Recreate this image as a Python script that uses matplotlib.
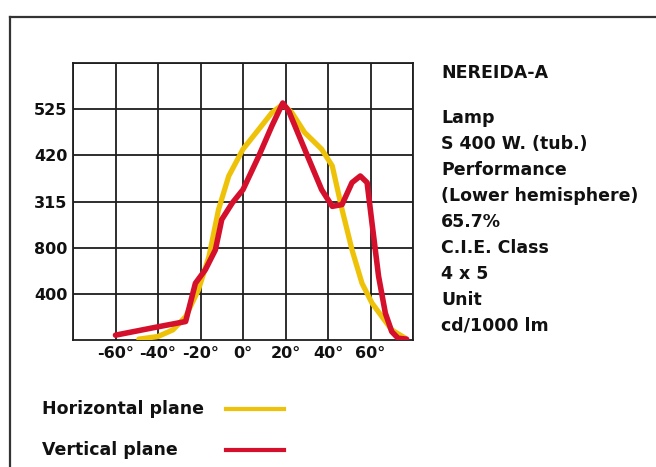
import matplotlib
matplotlib.use("Agg")
import matplotlib.pyplot as plt
from matplotlib.lines import Line2D
from matplotlib.ticker import FixedLocator, FixedFormatter

plt.rcParams['font.family'] = ['DejaVu Sans']

# Data (angle in degrees, intensity in cd/1000 lm)
horiz_angle = [-49, -40, -33, -27, -21, -16, -11.5, -6.7, 0, 7.4, 13.6, 18.7, 23, 29, 37, 42, 46.6, 51.3, 56, 60.7, 65.4, 70, 76.4]
horiz_value = [2, 8, 23, 53, 114, 190, 297, 373, 434, 479, 517, 536, 517, 472, 434, 396, 297, 205, 129, 84, 53, 23, 4]

vert_angle = [-60, -40, -27, -25, -22.4, -17.7, -13, -10, -5, 0, 7.4, 13.6, 18.7, 21.5, 29, 37, 42, 46.6, 51.3, 55.2, 58.4, 60.7, 63.8, 67, 70, 73, 77]
vert_value = [11, 30, 42, 80, 129, 160, 205, 274, 312, 342, 418, 487, 539, 521, 434, 342, 304, 308, 358, 373, 358, 266, 145, 61, 19, 4, 2]

x_ticks = [-60, -40, -20, 0, 20, 40, 60]
x_tick_labels = ["-60°", "-40°", "-20°", "0°", "20°", "40°", "60°"]
y_ticks = [105, 210, 315, 420, 525]
y_tick_labels = ["400", "800", "315", "420", "525"]

info_title = "NEREIDA-A"
info_lines = ["Lamp", "S 400 W. (tub.)", "Performance", "(Lower hemisphere)",
              "65.7%", "C.I.E. Class", "4 x 5", "Unit", "cd/1000 lm"]
legend_labels = ["Horizontal plane", "Vertical plane"]

YELLOW = "#efc20a"
RED = "#d4102c"
GRID = "#1e1e1e"
TXT = "#111111"

W, H = 656, 467
fig = plt.figure(figsize=(W / 100, H / 100), dpi=100)
fig.patch.set_facecolor("white")

# outer frame (left and top)
fig.add_artist(Line2D([10 / W, 10 / W], [0, 1 - 17 / H], transform=fig.transFigure, color="#333333", lw=1.6))
fig.add_artist(Line2D([10 / W, 1], [1 - 17 / H, 1 - 17 / H], transform=fig.transFigure, color="#333333", lw=1.6))

ax = fig.add_axes([73 / W, 1 - 340 / H, (413 - 73) / W, (340 - 63) / H])
ax.set_xlim(-80, 80)
ax.set_ylim(0, 630)
ax.set_xticks(x_ticks)
ax.set_xticklabels(x_tick_labels)
ax.set_xticks([-80, 80], minor=True)
ax.yaxis.set_major_locator(FixedLocator(y_ticks))
ax.yaxis.set_major_formatter(FixedFormatter(y_tick_labels))
ax.set_yticks([630], minor=True)
ax.grid(True, which="both", color=GRID, lw=1.3)
ax.set_axisbelow(True)
for s in ax.spines.values():
    s.set_color(GRID)
    s.set_linewidth(1.3)
ax.tick_params(axis="both", which="both", length=0, labelsize=11.5, pad=4)
for lab in ax.get_xticklabels() + ax.get_yticklabels():
    lab.set_fontweight("bold")
    lab.set_color(TXT)

ax.plot(horiz_angle, horiz_value, color=YELLOW, lw=3.8, solid_joinstyle="round", solid_capstyle="round", zorder=3)
ax.plot(vert_angle, vert_value, color=RED, lw=4.0, solid_joinstyle="round", solid_capstyle="round", zorder=4)

# info text block
FS = 12.5
fig.text(441 / W, 1 - 73 / H, info_title, fontsize=FS, fontweight="bold", va="center", ha="left", color=TXT)
for i, line in enumerate(info_lines):
    fig.text(441 / W, 1 - (118 + 26 * i) / H, line, fontsize=FS, fontweight="bold",
             va="center", ha="left", color=TXT)

# legend
colors = [YELLOW, RED]
ys = [409, 450]
for lab, c, y in zip(legend_labels, colors, ys):
    fig.text(42 / W, 1 - y / H, lab, fontsize=FS, fontweight="bold", va="center", ha="left", color=TXT)
    fig.add_artist(Line2D([226 / W, 284 / W], [1 - y / H, 1 - y / H], transform=fig.transFigure, color=c, lw=3))

fig.savefig("out.png", dpi=100)
